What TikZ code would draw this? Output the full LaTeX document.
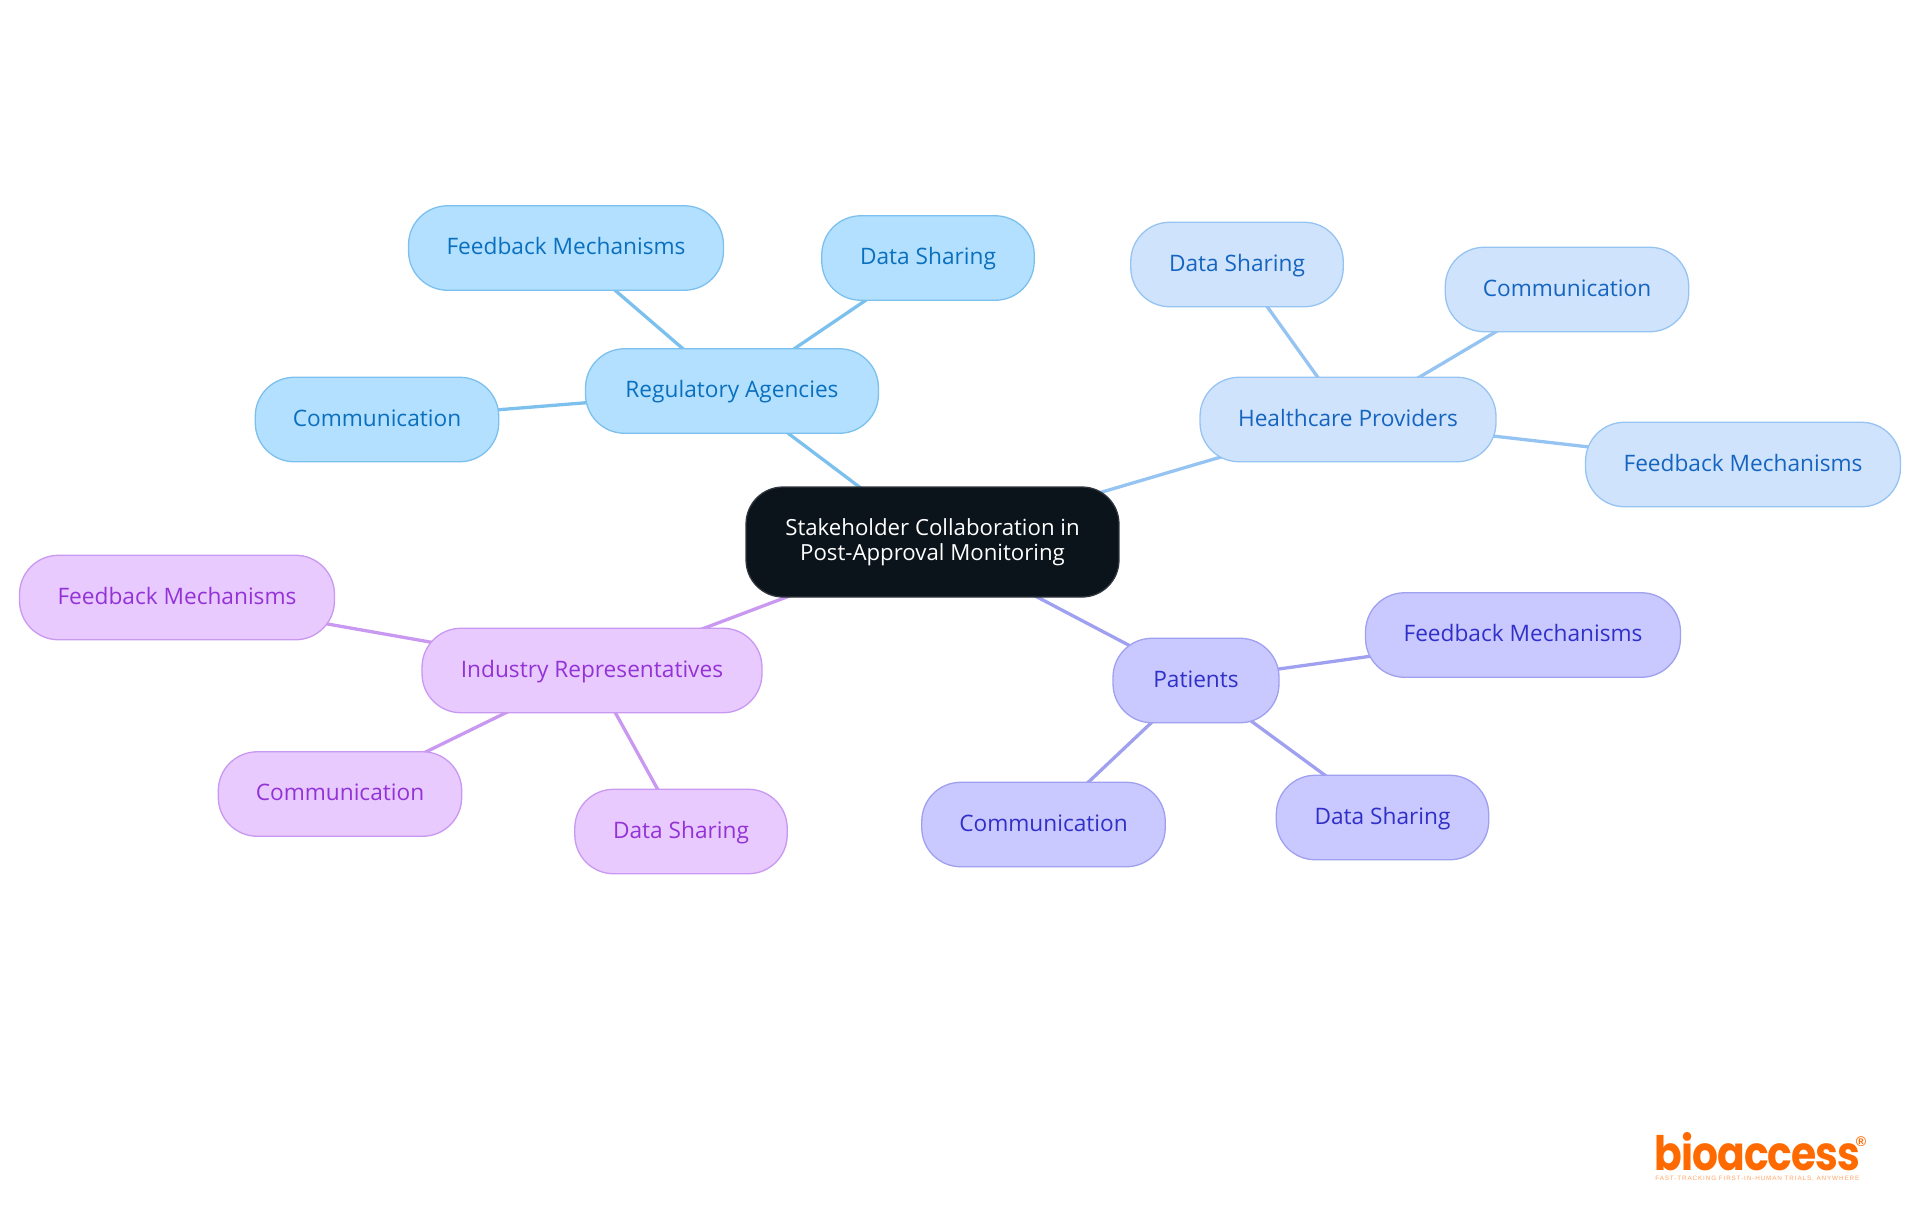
\documentclass[tikz,border=0pt]{standalone}
\usepackage{fontspec}
\setmainfont{Open Sans}
\newfontfamily\logofont[FakeStretch=0.86,LetterSpace=-2]{Poppins}
\newfontfamily\tagfont[LetterSpace=14]{Liberation Sans}
\usetikzlibrary{backgrounds}

\definecolor{regFill}{HTML}{B3E0FF}
\definecolor{regLine}{HTML}{7CC0EE}
\definecolor{regText}{HTML}{0A70BE}
\definecolor{hcpFill}{HTML}{CFE3FC}
\definecolor{hcpLine}{HTML}{96C4F2}
\definecolor{hcpText}{HTML}{1565C0}
\definecolor{patFill}{HTML}{C9C9FF}
\definecolor{patLine}{HTML}{A0A0F0}
\definecolor{patText}{HTML}{3030C8}
\definecolor{indFill}{HTML}{E8CAFF}
\definecolor{indLine}{HTML}{C998F0}
\definecolor{indText}{HTML}{9333D6}
\definecolor{rootFill}{HTML}{0B131B}
\definecolor{logoOrange}{HTML}{FF6A00}

\tikzset{
	box/.style={draw, line width=0.026cm, rounded corners=0.78cm, inner sep=0pt,
		minimum height=1.69cm, text height=0.35cm, text depth=0.08cm,
		font=\fontsize{12.9}{14.2}\selectfont},
	rootbox/.style={box, fill=rootFill, draw=rootFill!85!white, text=white, align=center,
		minimum width=7.46cm, minimum height=2.2cm, rounded corners=0.74cm,
		text height=, text depth=, font=\fontsize{12.65}{14.2}\selectfont},
	fbwide/.style={minimum width=6.3cm},
	dswide/.style={minimum width=4.25cm},
	cmwide/.style={minimum width=4.87cm},
	reg/.style={box, fill=regFill, draw=regLine, text=regText},
	hcp/.style={box, fill=hcpFill, draw=hcpLine, text=hcpText},
	pat/.style={box, fill=patFill, draw=patLine, text=patText},
	ind/.style={box, fill=indFill, draw=indLine, text=indText},
	spoke/.style={line width=0.066cm}
}

\newcommand{\spokes}[3]{
	\foreach \spokeEnd in {#3}
		\draw[spoke, color=#1] (#2.center) -- (\spokeEnd.center);
}

\begin{document}
\begin{tikzpicture}[x=0.02cm, y=-0.02cm]
\useasboundingbox (0,0) rectangle (1920,1215);

\node[rootbox] (root) at (932.5,542) {Stakeholder Collaboration in\\Post-Approval Monitoring};

\node[reg, minimum width=5.86cm] (regHub) at (732,391) {Regulatory Agencies};
\node[reg, fbwide] (regFeedback) at (566,248) {Feedback Mechanisms};
\node[reg, dswide] (regData) at (928,258) {Data Sharing};
\node[reg, cmwide] (regComm) at (377,419.5) {Communication};

\node[hcp, minimum width=5.92cm] (hcpHub) at (1348,419.5) {Healthcare Providers};
\node[hcp, dswide] (hcpData) at (1237,264.5) {Data Sharing};
\node[hcp, cmwide] (hcpComm) at (1567,289.5) {Communication};
\node[hcp, fbwide] (hcpFeedback) at (1743,464.5) {Feedback Mechanisms};

\node[pat, minimum width=3.32cm] (patHub) at (1196,680.5) {Patients};
\node[pat, fbwide] (patFeedback) at (1523,635) {Feedback Mechanisms};
\node[pat, dswide] (patData) at (1382.5,817.5) {Data Sharing};
\node[pat, cmwide] (patComm) at (1043.5,824.5) {Communication};

\node[ind, minimum width=6.8cm] (indHub) at (592,670.5) {Industry Representatives};
\node[ind, fbwide] (indFeedback) at (177,597.5) {Feedback Mechanisms};
\node[ind, cmwide] (indComm) at (340,794) {Communication};
\node[ind, dswide] (indData) at (681,831.5) {Data Sharing};

\begin{scope}[on background layer]
\spokes{regLine}{root}{regHub}
\spokes{regLine}{regHub}{regFeedback,regData,regComm}
\spokes{hcpLine}{root}{hcpHub}
\spokes{hcpLine}{hcpHub}{hcpData,hcpComm,hcpFeedback}
\spokes{patLine}{root}{patHub}
\spokes{patLine}{patHub}{patFeedback,patData,patComm}
\spokes{indLine}{root}{indHub}
\spokes{indLine}{indHub}{indFeedback,indComm,indData}
\end{scope}

\node[text=logoOrange, inner sep=0pt, anchor=base west, text depth=0pt, font=\logofont\bfseries\fontsize{27}{27}\selectfont] (logoName) at (1654,1170) {bioaccess};
\node[text=logoOrange, inner sep=0pt, font=\tagfont\bfseries\fontsize{8}{8}\selectfont] (logoMark) at (1861,1142) {®};
\node[text=logoOrange!60!white, inner sep=0pt, anchor=base west, font=\tagfont\fontsize{3.6}{4}\selectfont] (logoTag) at (1655,1180) {FAST-TRACKING FIRST-IN-HUMAN TRIALS, ANYWHERE};
\end{tikzpicture}
\end{document}
